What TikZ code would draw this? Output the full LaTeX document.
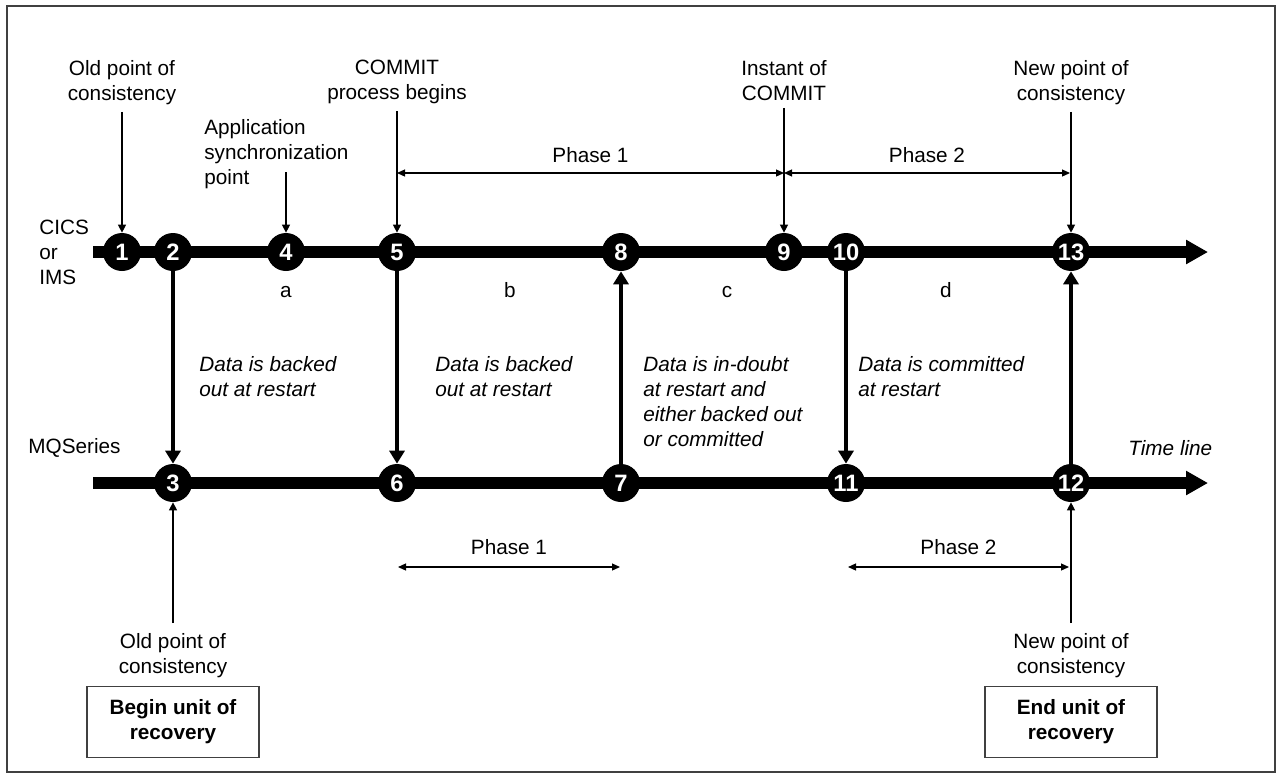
\documentclass[tikz,border=0pt]{standalone}
\usepackage{fontspec}
\setmainfont{Liberation Sans}
\usetikzlibrary{arrows.meta}

\begin{document}
\begin{tikzpicture}[x=0.02cm,y=-0.02cm,
  pt/.style={circle,fill=black,text=white,inner sep=0pt,minimum size=0.76cm,font=\fontsize{13.5}{13.5}\selectfont\bfseries},
  lbl/.style={inner sep=0pt,align=center,anchor=north,font=\fontsize{11.8}{14.2}\selectfont},
  note/.style={inner sep=0pt,align=left,anchor=north west,font=\fontsize{11.8}{14.2}\selectfont\itshape},
  timeline/.style={line width=6.3pt,-{Triangle[length=0.44cm,width=0.46cm]}},
  flow/.style={line width=2.3pt,-{Triangle[length=0.26cm,width=0.3cm]}},
  tick/.style={line width=0.7pt,-{Triangle[length=0.16cm,width=0.16cm]}},
  phase/.style={line width=0.7pt,{Triangle[length=0.16cm,width=0.14cm]}-{Triangle[length=0.16cm,width=0.14cm]}},
  unit/.style={draw=black!75,line width=0.8pt,minimum width=3.44cm,minimum height=1.42cm,align=center,font=\fontsize{11.8}{14.2}\selectfont\bfseries}]
\useasboundingbox (0,0) rectangle (1281,778);
\draw[black!75,line width=0.8pt] (7,6) rectangle (1275,772);

\coordinate (cs) at (93,252);
\coordinate (ce) at (1208,252);
\coordinate (ms) at (93,483);
\coordinate (me) at (1208,483);
\draw[timeline] (cs) -- (ce);
\draw[timeline] (ms) -- (me);

\node [pt] (n1) at (122,252) {1};
\node [pt] (n2) at (173,252) {2};
\node [pt] (n4) at (286,252) {4};
\node [pt] (n5) at (397,252) {5};
\node [pt] (n8) at (621,252) {8};
\node [pt] (n9) at (784,252) {9};
\node [pt] (n10) at (846,252) {10};
\node [pt] (n13) at (1071,252) {13};
\node [pt] (n3) at (173,483) {3};
\node [pt] (n6) at (397,483) {6};
\node [pt] (n7) at (621,483) {7};
\node [pt] (n11) at (846,483) {11};
\node [pt] (n12) at (1071,483) {12};

\node [note,font=\fontsize{11.8}{14.2}\selectfont] (cics) at (39,220) {CICS\\or\\IMS};
\node [note,anchor=west,font=\fontsize{11.8}{14.2}\selectfont] (mq) at (28,448) {MQSeries};
\node [note,anchor=west] (tl) at (1128,448) {Time line};

\node [lbl] (l1) at (122,60) {Old point of\\consistency};
\node [lbl,anchor=north west,align=left] (l4) at (204,119) {Application\\synchronization\\point};
\node [lbl] (l5) at (397,60) {COMMIT\\process begins};
\node [lbl] (l9) at (784,60) {Instant of\\COMMIT};
\node [lbl] (l13) at (1071,60) {New point of\\consistency};
\coordinate (a4) at (286,172);

\draw[tick,shorten <=0.14cm] (l1) -- (n1);
\draw[tick] (a4) -- (n4);
\draw[tick,shorten <=0.14cm] (l5) -- (n5);
\draw[tick,shorten <=0.14cm] (l9) -- (n9);
\draw[tick,shorten <=0.14cm] (l13) -- (n13);

\coordinate (t1) at (397,173);
\coordinate (t2) at (784,173);
\coordinate (t3) at (1070,173);
\draw[phase] (t1) -- node[above=0.2cm,inner sep=0pt,font=\fontsize{11.8}{14.2}\selectfont] (ph1) {Phase 1} (t2);
\draw[phase] (t2) -- node[above=0.2cm,inner sep=0pt,font=\fontsize{11.8}{14.2}\selectfont] (ph2) {Phase 2} (t3);

\node [lbl,anchor=base] (ta) at (286,297) {a};
\node [lbl,anchor=base] (tb) at (510,297) {b};
\node [lbl,anchor=base] (tc) at (727,297) {c};
\node [lbl,anchor=base] (td) at (946,297) {d};

\draw[flow] (n2) -- (n3);
\draw[flow] (n5) -- (n6);
\draw[flow] (n7) -- (n8);
\draw[flow] (n10) -- (n11);
\draw[flow] (n12) -- (n13);

\node [note] (d1) at (199,356) {Data is backed\\out at restart};
\node [note] (d2) at (435,356) {Data is backed\\out at restart};
\node [note] (d3) at (643,356) {Data is in-doubt\\at restart and\\either backed out\\or committed};
\node [note] (d4) at (858,356) {Data is committed\\at restart};

\coordinate (b1) at (398,567);
\coordinate (b2) at (620,567);
\coordinate (b3) at (848,567);
\coordinate (b4) at (1069,567);
\draw[phase] (b1) -- node[above=0.24cm,inner sep=0pt,font=\fontsize{11.8}{14.2}\selectfont] (ph3) {Phase 1} (b2);
\draw[phase] (b3) -- node[above=0.24cm,inner sep=0pt,font=\fontsize{11.8}{14.2}\selectfont] (ph4) {Phase 2} (b4);

\node [lbl] (l3) at (173,633) {Old point of\\consistency};
\node [lbl] (l12) at (1071,633) {New point of\\consistency};
\draw[tick,shorten <=0.2cm] (l3) -- (n3);
\draw[tick,shorten <=0.2cm] (l12) -- (n12);

\node [unit] (u1) at (173,722) {Begin unit of\\recovery};
\node [unit] (u2) at (1071,722) {End unit of\\recovery};
\end{tikzpicture}
\end{document}
